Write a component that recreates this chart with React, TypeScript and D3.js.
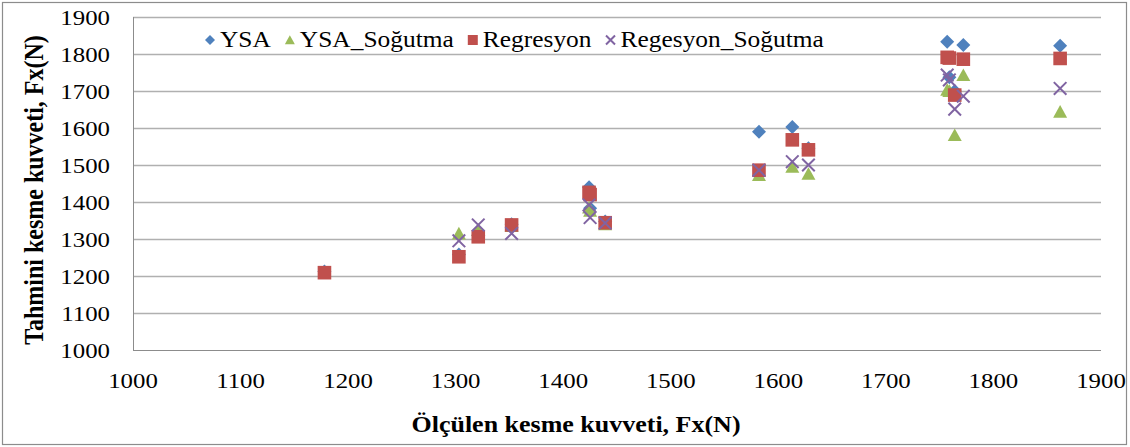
import { useEffect, useRef } from 'react';
import * as d3 from 'd3';

// measured cutting force (x) and the four predicted series (y)
const measured = [1178, 1303, 1321, 1352, 1424, 1425, 1439, 1582, 1613, 1628, 1757, 1759, 1764, 1772, 1862];
const ysa = [1212, 1258, 1310, 1340, 1440, 1383, 1347, 1590, 1603, 1545, 1833, 1737, 1700, 1824, 1822];
const ysaSogutma = [null, 1315, 1325, 1335, 1385, 1376, 1340, 1473, 1495, 1476, 1703, 1700, 1581, 1743, 1644];
const regresyon = [1209, 1252, 1306, 1338, 1426, 1420, 1344, 1486, 1568, 1541, 1791, 1789, 1689, 1786, 1788];
const regesyonSogutma = [null, 1295, 1338, 1315, 1392, 1358, 1343, 1486, 1509, 1500, 1743, 1730, 1651, 1686, 1707];

const seriesNames = ['YSA', 'YSA_Soğutma', 'Regresyon', 'Regesyon_Soğutma'];
const tickValues = [1000, 1100, 1200, 1300, 1400, 1500, 1600, 1700, 1800, 1900];

const W = 1130;
const H = 447;
const FONT = '"Liberation Serif", "Times New Roman", serif';
const STRETCH = 1.13;

const colors = ['#4F81BD', '#9BBB59', '#C0504D', '#8064A2'];

type Shape = 'diamond' | 'triangle' | 'square' | 'x';
const shapes: Shape[] = ['diamond', 'triangle', 'square', 'x'];

const drawMarker = (
	g: d3.Selection<SVGGElement, unknown, null, undefined>,
	shape: Shape,
	color: string,
	s: number
) => {
	if (shape === 'diamond') {
		g.append('path').attr('d', `M0,${-s}L${s},0L0,${s}L${-s},0Z`).attr('fill', color);
	} else if (shape === 'triangle') {
		g.append('path')
			.attr('d', `M0,${-s * 0.95}L${s},${s * 0.85}L${-s},${s * 0.85}Z`)
			.attr('fill', color);
	} else if (shape === 'square') {
		g.append('rect')
			.attr('x', -s)
			.attr('y', -s)
			.attr('width', 2 * s)
			.attr('height', 2 * s)
			.attr('fill', color);
	} else {
		const r = s * 0.9;
		g.append('path')
			.attr('d', `M${-r},${-r}L${r},${r}M${-r},${r}L${r},${-r}`)
			.attr('stroke', color)
			.attr('stroke-width', 2)
			.attr('fill', 'none');
	}
};

export default function App() {
	const svgRef = useRef<SVGSVGElement>(null);

	useEffect(() => {
		if (!svgRef.current) return;
		const svg = d3.select(svgRef.current);
		svg.selectAll('*').remove();

		const plot = { left: 133, right: 1101, top: 17, bottom: 350 };

		const x = d3.scaleLinear().domain([1000, 1900]).range([plot.left, plot.right]);
		const y = d3.scaleLinear().domain([1000, 1900]).range([plot.bottom, plot.top]);

		// chart border
		svg.append('rect')
			.attr('x', 2.5)
			.attr('y', 2.5)
			.attr('width', W - 6)
			.attr('height', H - 5)
			.attr('fill', '#fff')
			.attr('stroke', '#8c8c8c')
			.attr('stroke-width', 1.2);

		// horizontal grid lines
		svg.append('g')
			.selectAll('line')
			.data(tickValues.filter((t) => t > 1000))
			.join('line')
			.attr('x1', plot.left)
			.attr('x2', plot.right)
			.attr('y1', (d) => Math.round(y(d)) + 0.5)
			.attr('y2', (d) => Math.round(y(d)) + 0.5)
			.attr('stroke', '#b0b0b0')
			.attr('stroke-width', 1.3);

		// axis lines
		svg.append('line')
			.attr('x1', plot.left + 0.5)
			.attr('x2', plot.left + 0.5)
			.attr('y1', plot.top)
			.attr('y2', plot.bottom)
			.attr('stroke', '#8c8c8c');
		svg.append('line')
			.attr('x1', plot.left)
			.attr('x2', plot.right)
			.attr('y1', plot.bottom + 0.5)
			.attr('y2', plot.bottom + 0.5)
			.attr('stroke', '#8c8c8c');

		// y tick labels
		svg.append('g')
			.selectAll('text')
			.data(tickValues)
			.join('text')
			.attr('transform', (d) => `translate(110,${y(d) + 8}) scale(${STRETCH},1)`)
			.attr('text-anchor', 'end')
			.attr('font-family', FONT)
			.attr('font-size', 22)
			.text((d) => d);

		// x tick labels
		svg.append('g')
			.selectAll('text')
			.data(tickValues)
			.join('text')
			.attr('transform', (d) => `translate(${x(d)},388) scale(${STRETCH},1)`)
			.attr('text-anchor', 'middle')
			.attr('font-family', FONT)
			.attr('font-size', 22)
			.text((d) => d);

		// axis titles
		svg.append('text')
			.attr('transform', `translate(576,432) scale(${STRETCH},1)`)
			.attr('text-anchor', 'middle')
			.attr('font-family', FONT)
			.attr('font-weight', 'bold')
			.attr('font-size', 23)
			.text('Ölçülen kesme kuvveti, Fx(N)');

		svg.append('text')
			.attr('transform', `translate(43,190) rotate(-90) scale(1,${STRETCH})`)
			.attr('text-anchor', 'middle')
			.attr('font-family', FONT)
			.attr('font-weight', 'bold')
			.attr('font-size', 24)
			.text('Tahmini kesme kuvveti, Fx(N)');

		// data markers, drawn in series order
		const allSeries = [ysa, ysaSogutma, regresyon, regesyonSogutma];
		allSeries.forEach((values, si) => {
			const layer = svg.append('g');
			values.forEach((v, i) => {
				if (v == null) return;
				const g = layer.append('g').attr('transform', `translate(${x(measured[i])},${y(v)})`);
				drawMarker(g, shapes[si], colors[si], si === 2 ? 6.8 : 7);
			});
		});

		// legend
		const legend = svg.append('g').attr('transform', 'translate(0,40)');
		let cx = 210;
		seriesNames.forEach((name, si) => {
			const mg = legend.append('g').attr('transform', `translate(${cx},0)`);
			drawMarker(mg, shapes[si], colors[si], 5);
			const t = legend
				.append('text')
				.attr('transform', `translate(${cx + 10},7) scale(${STRETCH},1)`)
				.attr('font-family', FONT)
				.attr('font-size', 22.5)
				.text(name);
			const len = (t.node() as SVGTextElement).getComputedTextLength() * STRETCH;
			cx = cx + 10 + len + 19;
		});
	}, []);

	return (
		<svg
			ref={svgRef}
			width={W}
			height={H}
			style={{ position: 'absolute', left: 0, top: 0, background: '#fff' }}
		/>
	);
}
